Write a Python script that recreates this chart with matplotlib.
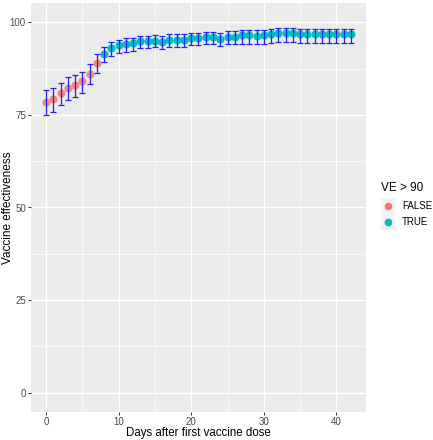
import matplotlib
matplotlib.use("Agg")
import matplotlib.pyplot as plt
from matplotlib.lines import Line2D
import numpy as np

plt.rcParams['font.family'] = ['Liberation Sans', 'DejaVu Sans']

days = list(range(43))
ve = [78.5, 79.2, 80.8, 82.3, 83.0, 84.1, 86.1, 89.1, 91.5, 93.1,
      93.8, 94.2, 94.3, 94.9, 94.9, 95.0, 94.7, 95.3, 95.3, 95.3,
      95.8, 95.8, 96.0, 96.0, 95.6, 96.0, 96.0, 96.5, 96.5, 96.4,
      96.5, 96.8, 97.1, 97.1, 97.1, 96.9, 96.9, 96.9, 96.9, 96.9,
      96.9, 96.8, 96.8]
lower = [75.0, 75.7, 77.7, 79.1, 79.8, 81.0, 83.4, 86.3, 89.3, 91.0,
         91.7, 92.0, 92.2, 93.0, 93.0, 93.2, 92.9, 93.3, 93.3, 93.3,
         93.8, 93.8, 94.0, 94.0, 93.6, 94.0, 94.0, 94.2, 94.2, 94.0,
         94.2, 94.4, 94.7, 94.7, 94.7, 94.4, 94.4, 94.4, 94.4, 94.4,
         94.4, 94.4, 94.4]
upper = [81.6, 82.2, 83.7, 85.1, 85.9, 86.7, 88.6, 91.5, 93.4, 94.7,
         95.3, 95.8, 95.8, 96.2, 96.2, 96.5, 96.2, 96.8, 96.8, 96.8,
         97.1, 97.1, 97.4, 97.4, 97.1, 97.6, 97.6, 98.0, 98.0, 97.8,
         98.0, 98.3, 98.5, 98.5, 98.5, 98.3, 98.3, 98.3, 98.3, 98.3,
         98.3, 98.3, 98.3]
threshold = 90
legend_title = "VE > 90"
legend_labels = ["FALSE", "TRUE"]
colors = {"FALSE": "#F8766D", "TRUE": "#00BFC4"}

W, H = 433, 440
fig = plt.figure(figsize=(W / 100, H / 100), dpi=100)
L, R, T, B = 31, 366, 3, 412
ax = fig.add_axes([L / W, 1 - B / H, (R - L) / W, (B - T) / H])
ax.set_facecolor("#EBEBEB")
for s in ax.spines.values():
    s.set_visible(False)

ax.set_xlim(-2.1, 44.1)
ax.set_ylim(-5.2, 105.2)
ax.set_xticks([0, 10, 20, 30, 40])
ax.set_yticks([0, 25, 50, 75, 100])
ax.set_xticks([5, 15, 25, 35], minor=True)
ax.set_yticks([12.5, 37.5, 62.5, 87.5], minor=True)
ax.grid(which="major", color="white", linewidth=1.0)
ax.grid(which="minor", color="white", linewidth=0.5)
ax.set_axisbelow(True)
ax.tick_params(which="major", length=2.5, width=0.7, color="#333333",
               labelsize=7, labelcolor="#4D4D4D", pad=1.2)
ax.tick_params(which="minor", length=0)

d = np.array(days)
v = np.array(ve)
mask = v > threshold
ax.scatter(d[~mask], v[~mask], s=34, color=colors["FALSE"], alpha=0.85,
           linewidths=0, zorder=3)
ax.scatter(d[mask], v[mask], s=34, color=colors["TRUE"], linewidths=0, zorder=3)
ax.errorbar(d, v, yerr=[v - np.array(lower), np.array(upper) - v], fmt="none",
            ecolor="#2323EE", elinewidth=0.9, capsize=2.0, capthick=0.9, zorder=4)

fig.text((L + R) / 2 / W, 1 - 433 / H, "Days after first vaccine dose",
         fontsize=8.3, ha="center", va="center")
fig.text(8 / W, 1 - (T + B) / 2 / H, "Vaccine effectiveness", fontsize=8.5,
         rotation=90, ha="center", va="center")

# legend
fig.text(381 / W, 1 - 188 / H, legend_title, fontsize=8.5, va="center", ha="left")
for i, lab in enumerate(legend_labels):
    yc = 206 + i * 16
    fig.patches.append(plt.Rectangle(((381) / W, 1 - (yc + 8) / H), 14 / W, 16 / H,
                                     transform=fig.transFigure, facecolor="#F2F2F2",
                                     edgecolor="none"))
    fig.lines.append(Line2D([388 / W], [1 - yc / H], transform=fig.transFigure,
                            marker="o", markersize=4.5, color=colors[lab],
                            linestyle="none"))
    fig.text(402 / W, 1 - yc / H, lab, fontsize=7, va="center", ha="left")

fig.savefig("out.png", dpi=100)
